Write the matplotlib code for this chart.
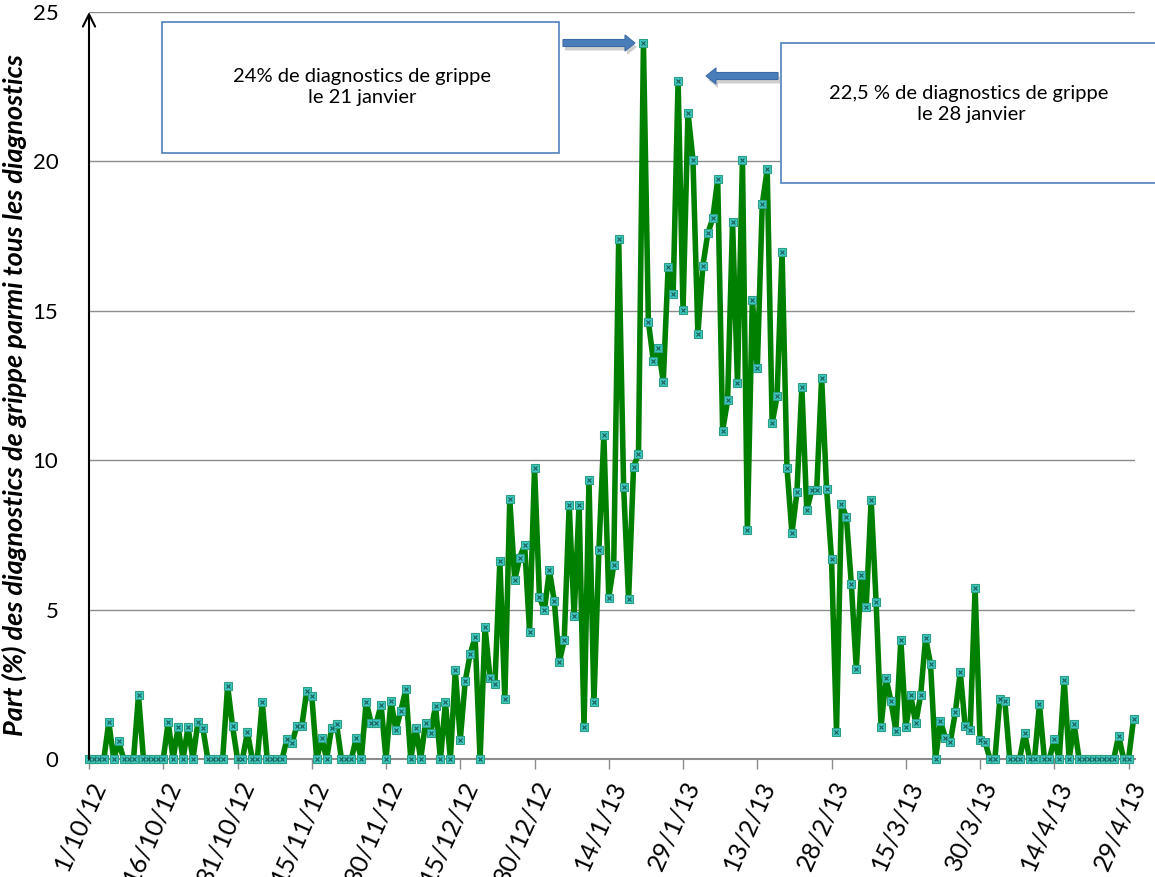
import pandas as pd
import matplotlib
matplotlib.use("Agg")
import matplotlib.pyplot as plt
import matplotlib.transforms as mtransforms
from matplotlib.patches import Rectangle, FancyArrow

plt.rcParams['font.family'] = ['Lato', 'DejaVu Sans']

# daily share (%) of flu diagnoses, from 1/10/12
start_date = "2012-10-01"
flu_share = [
    0, 0, 0, 0, 1.23, 0, 0.59, 0, 0, 0,
    2.14, 0, 0, 0, 0, 0, 1.23, 0, 1.06, 0,
    1.06, 0, 1.23, 1.03, 0, 0, 0, 0, 2.45, 1.09,
    0, 0, 0.89, 0, 0, 1.90, 0, 0, 0, 0,
    0.67, 0.52, 1.12, 1.12, 2.29, 2.12, 0, 0.71, 0, 1.03,
    1.17, 0, 0, 0, 0.71, 0, 1.92, 1.19, 1.19, 1.81,
    0, 1.94, 0.97, 1.62, 2.33, 0, 1.05, 0, 1.22, 0.88,
    1.77, 0, 1.90, 0, 2.97, 0.65, 2.61, 3.51, 4.08, 0,
    4.41, 2.72, 2.52, 6.64, 2.00, 8.70, 5.98, 6.74, 7.16, 4.26,
    9.75, 5.41, 4.98, 6.31, 5.28, 3.24, 3.98, 8.50, 4.79, 8.50,
    1.06, 9.33, 1.90, 6.98, 10.85, 5.40, 6.50, 17.40, 9.11, 5.35,
    9.78, 10.21, 23.97, 14.64, 13.33, 13.77, 12.63, 16.48, 15.56, 22.68,
    15.02, 21.63, 20.06, 14.24, 16.50, 17.59, 18.09, 19.40, 10.99, 12.00,
    17.96, 12.59, 20.05, 7.66, 15.37, 13.07, 18.56, 19.73, 11.24, 12.14,
    16.96, 9.74, 7.55, 8.92, 12.45, 8.32, 9.00, 9.00, 12.76, 9.04,
    6.69, 0.92, 8.53, 8.09, 5.85, 3.02, 6.15, 5.08, 8.68, 5.26,
    1.08, 2.70, 1.94, 0.95, 3.98, 1.06, 2.13, 1.19, 2.14, 4.06,
    3.18, 0, 1.26, 0.71, 0.58, 1.56, 2.90, 1.09, 0.98, 5.71,
    0.62, 0.58, 0, 0, 2.00, 1.95, 0, 0, 0, 0.88,
    0, 0, 1.83, 0, 0, 0.66, 0, 2.64, 0, 1.17,
    0, 0, 0, 0, 0, 0, 0, 0, 0.78, 0,
    0, 1.33,
]
tick_labels = ['1/10/12', '16/10/12', '31/10/12', '15/11/12', '30/11/12',
               '15/12/12', '30/12/12', '14/1/13', '29/1/13', '13/2/13',
               '28/2/13', '15/3/13', '30/3/13', '14/4/13', '29/4/13']
y_ticks = [0, 5, 10, 15, 20, 25]
note_peak1 = "24% de diagnostics de grippe\nle 21 janvier"
note_peak2 = "22,5 % de diagnostics de grippe\n le 28 janvier"

dates = pd.date_range(start_date, periods=len(flu_share), freq="D")
tick_dates = pd.date_range(start_date, periods=len(tick_labels), freq="15D")

W, H = 1155, 877
fig = plt.figure(figsize=(W / 100, H / 100), dpi=100)
ax = fig.add_axes([89 / W, 1 - 759 / H, (1135 - 89) / W, (759 - 12) / H])

ax.plot(dates, flu_share, color='#008000', lw=4, zorder=3, clip_on=False)
ax.plot(dates, flu_share, ls='none', marker='s', ms=5.5,
        mfc='#3EC8C4', mec='#2E9E80', mew=0.8, zorder=4, clip_on=False)
ax.plot(dates, flu_share, ls='none', marker='x', ms=2.5,
        mec='#1B5E55', mew=0.8, zorder=5, clip_on=False)

ax.set_ylim(0, 25)
ax.set_xlim(dates[0], dates[0] + pd.Timedelta(days=211.3))
ax.set_yticks(y_ticks)
ax.set_yticklabels([str(v) for v in y_ticks], fontsize=16)
ax.tick_params(axis='y', length=0, pad=22)
for v in y_ticks[1:]:
    ax.axhline(v, color='#8c8c8c', lw=1, zorder=1)

ax.set_xticks(tick_dates)
ax.set_xticklabels(tick_labels, rotation=66, ha='right', va='top',
                   rotation_mode='anchor', fontsize=18)
ax.tick_params(axis='x', length=7, color='#8c8c8c', width=1, pad=6)

for s in ['top', 'right', 'left']:
    ax.spines[s].set_visible(False)
ax.spines['bottom'].set_color('#8c8c8c')
ax.spines['bottom'].set_linewidth(1.5)
ax.annotate('', xy=(0, 1.0), xytext=(0, 0), xycoords='axes fraction',
            arrowprops=dict(arrowstyle='->', lw=1.5, color='black',
                            shrinkA=0, shrinkB=0, mutation_scale=22),
            annotation_clip=False, zorder=6)

ax.set_ylabel("Part (%) des diagnostics de grippe parmi tous les diagnostics",
              fontsize=19.5, fontweight='bold', fontstyle='italic')
ax.yaxis.set_label_coords(-0.059, 0.487)

# pixel coordinates (origin top-left) for the callouts
px = mtransforms.Affine2D().scale(1 / W, -1 / H).translate(0, 1) + fig.transFigure

fig.add_artist(Rectangle((162, 22), 397, 131, transform=px, fc='white',
                         ec='#4F81BD', lw=1.2, zorder=10))
fig.add_artist(Rectangle((781, 43), 385, 140, transform=px, fc='white',
                         ec='#4F81BD', lw=1.2, zorder=10))
fig.text(362 / W, 1 - 87 / H, note_peak1, ha='center', va='center',
         fontsize=14.5, linespacing=1.3, zorder=11)
fig.text(969 / W, 1 - 104 / H, note_peak2, ha='center', va='center',
         fontsize=14.5, linespacing=1.3, zorder=11)

for x0, y0, dx in [(563, 43, 72), (778, 76, -72)]:
    fig.add_artist(FancyArrow(x0 + 2, y0 + 4, dx, 0, width=7, head_width=16,
                              head_length=10, length_includes_head=True,
                              transform=px, fc='#b0b0b0', ec='none',
                              alpha=0.6, zorder=9))
    fig.add_artist(FancyArrow(x0, y0, dx, 0, width=7, head_width=16,
                              head_length=10, length_includes_head=True,
                              transform=px, fc='#4A7EBB', ec='#3A6AA5',
                              lw=0.8, zorder=10))

fig.savefig("out.png", dpi=100)
